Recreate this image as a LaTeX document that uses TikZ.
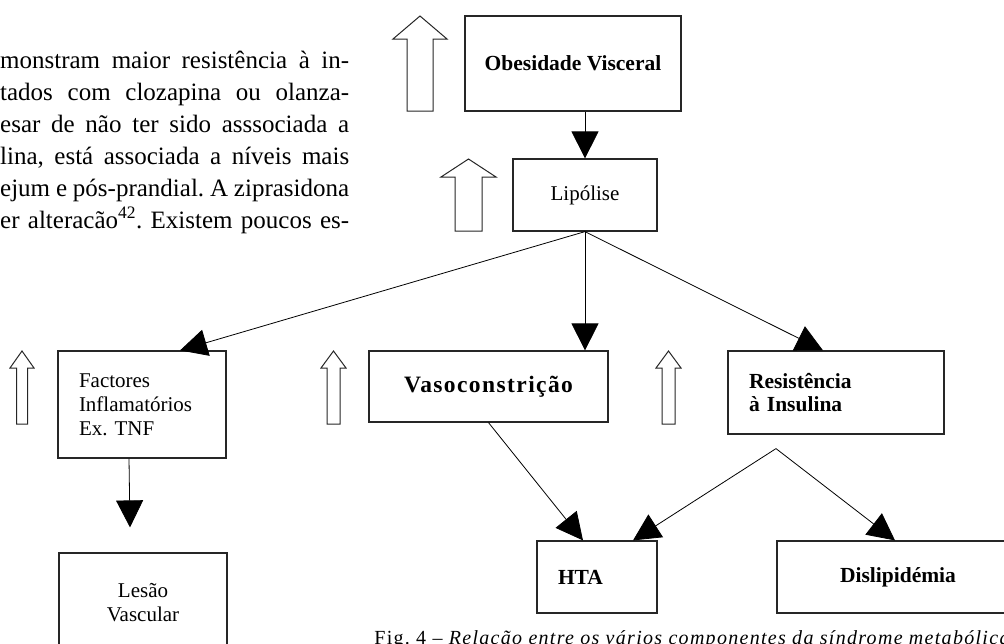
\documentclass[tikz,border=0pt]{standalone}
\usepackage{fontspec}
\setmainfont{Liberation Serif}
\newfontfamily\capfont[LetterSpace=6.5]{Liberation Serif}
\newfontfamily\wideboldfont[LetterSpace=6]{Liberation Serif}
\usetikzlibrary{arrows.meta,calc}
\frenchspacing

% hollow upward block arrow: centre x, tip y, head half width, shaft half width, head base y, bottom y
\newcommand{\hollowup}[6]{%
  \draw[hollow] (#1,#2) -- (#1+#3,#5) -- (#1+#4,#5) -- (#1+#4,#6)
    -- (#1-#4,#6) -- (#1-#4,#5) -- (#1-#3,#5) -- cycle;}

\begin{document}
\begin{tikzpicture}[x=1pt,y=-1pt,
  box/.style={draw=black!85, line width=1.2pt, rectangle, inner sep=0pt, align=center},
  leftbox/.style={box, align=left, inner xsep=21pt},
  conn/.style={draw=black, line width=0.8pt, -{Triangle[length=27pt,width=27pt]}},
  hollow/.style={draw=black!85, line width=1pt, fill=white},
  body/.style={anchor=base west, inner sep=0pt, font=\fontsize{25}{32}\selectfont},
  reg/.style={font=\fontsize{21}{24}\selectfont},
  bld/.style={font=\bfseries\fontsize{21.5}{23.5}\selectfont}
]
\useasboundingbox (0,0) rectangle (1004,643);
\clip (0,0) rectangle (1004,643);

% running text of the page, left column
\node[body] (t1) at (0,68)  {\makebox[349pt][s]{monstram maior resistência à in-}};
\node[body] (t2) at (0,100) {\makebox[349pt][s]{tados com clozapina ou olanza-}};
\node[body] (t3) at (0,132) {\makebox[349pt][s]{esar de não ter sido asssociada a}};
\node[body] (t4) at (0,164) {\makebox[349pt][s]{lina, está associada a níveis mais}};
\node[body] (t5) at (0,196) {\makebox[349pt][s]{ejum e pós-prandial. A ziprasidona}};
\node[body] (t6) at (0,228) {\makebox[349pt][s]{er alteracão\textsuperscript{42}. Existem poucos es-}};

% boxes
\node[box, bld, minimum width=216pt, minimum height=95pt] (obes) at (573,63.5) {Obesidade Visceral};
\node[box, reg, minimum width=144pt, minimum height=72pt] (lipo) at (585,195) {Lipólise};
\node[leftbox, reg, text width=126pt, minimum height=107pt] (fact) at (142,404.5)
  {Factores\\Inflamatórios\\Ex. TNF};
\node[box, minimum width=239pt, minimum height=71pt,
  font=\wideboldfont\bfseries\fontsize{23.5}{26}\selectfont] (vaso) at (488.5,386.5) {Vasoconstrição};
\node[leftbox, bld, text width=174pt, minimum height=83pt] (resi) at (836,392.5)
  {Resistência\\à Insulina};
\node[box, reg, minimum width=168pt, minimum height=100pt] (lesao) at (143,603) {Lesão\\Vascular};
\node[leftbox, bld, text width=78pt, minimum height=72pt] (hta) at (597,577) {HTA};
\node[box, bld, minimum width=242pt, minimum height=72pt] (disl) at (898,577) {Dislipidémia};

% hollow "increase" arrows
\hollowup{420}{16}{27}{13}{39}{111}
\hollowup{468.5}{159}{27.5}{13.5}{177}{231}
\hollowup{22}{351}{12}{5.5}{368}{424}
\hollowup{333.5}{351}{12.5}{6.5}{368}{424}
\hollowup{668.5}{351}{12.5}{6.5}{368}{424}

% connectors
\coordinate (factend) at ([xshift=-13pt,yshift=25pt]lesao.north);
\coordinate (split) at ([xshift=-60pt,yshift=-14pt]resi.south);
\draw[conn] (obes.south -| lipo.north) -- (lipo.north);
\draw[conn] (lipo.south) -- ([xshift=38pt]fact.north);
\draw[conn] (lipo.south) -- (lipo.south |- vaso.north);
\draw[conn] (lipo.south) -- ([xshift=-13pt]resi.north);
\draw[conn] ([xshift=-13pt]fact.south) -- (factend);
\draw[conn] (vaso.south) -- ([xshift=-14pt]hta.north);
\draw (split) edge[conn] ([xshift=36pt]hta.north)
      (split) edge[conn] ([xshift=-3pt]disl.north);

% caption, running off the lower right edge
\node[anchor=base east, inner sep=0pt, font=\capfont\fontsize{20}{24}\selectfont] (cap) at (1011,644)
  {Fig. 4 – \textit{Relação entre os vários componentes da síndrome metabólica}};
\end{tikzpicture}
\end{document}
